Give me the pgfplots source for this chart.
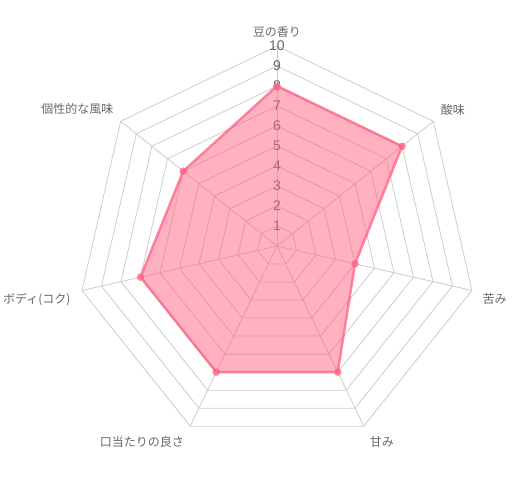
\documentclass[border=0pt]{standalone}
\usepackage{fontspec}
\setmainfont{Liberation Sans}
\newfontfamily\cjk{Noto Sans CJK JP}
\usepackage{pgfplots}
\usepgfplotslibrary{polar}
\pgfplotsset{compat=1.18}

\definecolor{pinkline}{RGB}{255,99,132}
\definecolor{labelgray}{RGB}{102,102,102}
\definecolor{gridgray}{RGB}{204,204,204}

\begin{document}
\begin{tikzpicture}
\begin{polaraxis}[
    hide axis,
    xmin=0, xmax=360,
    ymin=0, ymax=10,
    scale only axis,
    width=400pt, height=400pt,
    clip=false,
]
% grid polygons
\pgfplotsinvokeforeach{1,...,10}{
  \addplot[gridgray, line width=0.8pt, no markers] coordinates {
    (90,#1) (38.571,#1) (347.143,#1) (295.714,#1) (244.286,#1) (192.857,#1) (141.429,#1) (90,#1)};
}
% spokes
\pgfplotsinvokeforeach{90,38.571,347.143,295.714,244.286,192.857,141.429}{
  \addplot[gridgray, line width=0.8pt, no markers] coordinates {(#1,0) (#1,10)};
}
% tick labels
\pgfplotsinvokeforeach{1,...,10}{
  \node[text=labelgray, font=\fontsize{14}{14}\selectfont, inner sep=0pt] at (axis cs:90,#1) {#1};
}
% data
\addplot[draw=pinkline, draw opacity=0.75, line width=2.5pt, fill=pinkline, fill opacity=0.5, no markers]
  coordinates {(90,8) (38.571,8) (347.143,4) (295.714,7) (244.286,7) (192.857,7) (141.429,6) (90,8)};
\addplot[only marks, mark=*, mark size=3.5pt, color=pinkline, mark options={fill opacity=0.75, draw opacity=0.75}]
  coordinates {(90,8) (38.571,8) (347.143,4) (295.714,7) (244.286,7) (192.857,7) (141.429,6)};
% point labels
\tikzset{plabel/.style={text=labelgray, font=\cjk\fontsize{12}{12}\selectfont, inner sep=0pt}}
\node[plabel] at (axis cs:90,10.7) {豆の香り};
\node[plabel] at (axis cs:37.7,11.12) {酸味};
\node[plabel] at (axis cs:346.3,11.2) {苦み};
\node[plabel] at (axis cs:298.2,11.1) {甘み};
\node[plabel] at (axis cs:235.4,11.9) {口当たりの良さ};
\node[plabel] at (axis cs:192.5,12.3) {ボディ(コク)};
\node[plabel] at (axis cs:145.6,12.1) {個性的な風味};
\coordinate (c) at (axis cs:0,0);
\end{polaraxis}
\pgfresetboundingbox
\path[use as bounding box] ([shift={(-277pt,-242pt)}]c) rectangle ([shift={(243pt,246pt)}]c);
\end{tikzpicture}
\end{document}
